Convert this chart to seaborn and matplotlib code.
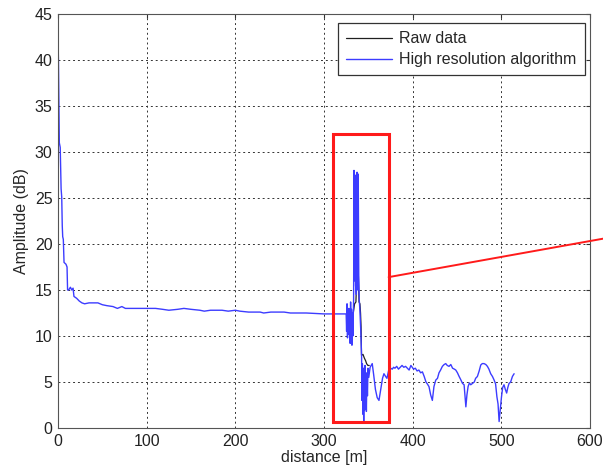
import matplotlib
matplotlib.use("Agg")
import matplotlib.pyplot as plt
import matplotlib.patches as mpatches
import seaborn as sns
import pandas as pd

# High resolution algorithm output (distance in m, amplitude in dB)
hr_dist = [0, 0.5, 1, 1.5, 2.5, 3.5, 4.2, 4.8, 5.3, 6, 6.8, 9, 10.2, 10.8, 12, 14, 15.5, 17,
           18, 21, 24, 27, 30, 35, 45, 50, 55, 62, 67, 72, 76, 90, 110, 118, 125, 135, 142,
           150, 160, 165, 172, 185, 192, 200, 205, 215, 228, 232, 240, 255, 262, 280, 300,
           312, 322, 325,
           325.5, 326, 326.5, 327, 327.5, 328, 328.5, 329, 329.5, 330, 330.5, 331, 331.5,
           332, 332.5, 333, 333.4, 333.8, 334.4, 335, 335.6, 336.5, 337.3, 338, 338.6,
           339.2, 339.7, 340.5, 341.5, 342.4,
           342.8, 343.3, 343.8, 344.3, 344.8, 345.3, 345.8, 346.3, 346.8, 347.3, 347.8,
           348.4, 349, 349.6, 350.5, 352, 354.4, 356, 358, 360, 362, 364, 366, 367.6,
           369.5, 371, 373, 375, 377, 378.5, 380, 382, 384, 386, 388, 390, 392, 394, 396,
           398, 399.5, 401, 403, 405, 407, 409, 411, 413, 415, 416.5, 418.4, 420.3, 422.2,
           424, 426, 428, 429.7, 431.5, 433.5, 435.5, 437.3, 439, 441, 443, 445, 447,
           448.6, 450.5, 452.4, 454, 456.2, 458, 460, 461.2, 462.5, 464, 465.5, 467.5,
           469.5, 471, 473, 475, 476.8, 478.5, 480.5, 482.5, 484.3, 486, 488, 490, 491.9,
           493.5, 495, 496.3, 497.5, 498.8, 500.2, 501.5, 503, 504.5, 506, 507.3, 508.7,
           510.5, 512.5, 514.4]
hr_amp = [42.2, 40.0, 36.0, 31.0, 30.5, 26.0, 25.1, 22.0, 20.8, 20.5, 18.0, 17.8, 17.5, 15.0,
          15.0, 15.3, 15.0, 15.2, 14.3, 14.1, 13.8, 13.6, 13.5, 13.6, 13.6, 13.4, 13.3, 13.2,
          13.0, 13.2, 13.0, 13.0, 13.0, 12.9, 12.8, 12.9, 13.0, 12.9, 12.8, 12.7, 12.8, 12.8,
          12.7, 12.8, 12.7, 12.6, 12.6, 12.5, 12.6, 12.6, 12.5, 12.5, 12.4, 12.4, 12.4, 12.4,
          10.5, 13.5, 9.8, 12.8, 10.2, 13.0, 10.5, 12.5, 9.2, 13.7, 9.5, 12.9, 9.0,
          12.5, 10.0, 12.5, 14.0, 28.0, 16.0, 27.5, 15.5, 14.5, 27.8, 15.0, 27.6,
          16.5, 14.0, 12.8, 10.5, 7.8,
          3.0, 7.0, 1.5, 6.5, 0.5, 5.8, 2.0, 6.8, 2.5, 5.5, 1.8,
          6.0, 3.5, 6.5, 5.5, 6.6, 7.0, 5.8, 4.2, 3.3, 3.0, 4.2, 5.4, 5.9,
          5.6, 5.4, 6.3, 6.5, 6.4, 6.6, 6.5, 6.7, 6.4, 6.6, 6.8, 6.6, 6.7, 6.5, 6.3,
          6.8, 6.6, 6.4, 6.5, 6.2, 6.3, 6.0, 6.1, 5.6, 5.0, 4.8, 4.5, 3.6, 3.0,
          4.5, 5.2, 5.4, 6.0, 6.3, 6.7, 6.9, 7.0, 6.8, 6.7, 6.9, 6.5, 6.4,
          6.3, 6.0, 5.6, 5.3, 4.85, 4.7, 2.3, 3.6, 4.5, 4.9, 4.7, 4.85,
          5.0, 5.4, 5.6, 6.2, 6.85, 7.0, 7.0, 6.9, 6.7, 6.4, 5.9, 5.6, 5.2,
          4.8, 3.4, 2.6, 0.7, 2.0, 3.4, 4.4, 4.7, 4.2, 3.8, 4.4, 4.85,
          5.0, 5.6, 5.9]

# Raw measurement where it departs from the processed curve
raw_dist = [333.0, 334.5, 336.0, 337.0, 338.0, 338.8, 339.5, 340.5, 341.2, 341.8, 342.3,
            344.0, 345.5, 347.0, 348.0, 349.5, 351.0]
raw_amp = [12.5, 13.5, 13.7, 16.8, 15.5, 16.5, 13.7, 13.5, 12.5, 11.0, 7.9,
           8.0, 7.6, 7.3, 7.0, 6.8, 6.8]

x_ticks = [0, 100, 200, 300, 400, 500, 600]
y_ticks = [0, 5, 10, 15, 20, 25, 30, 35, 40, 45]

# Zoom window marking the target echo and the pointer leaving the axes
zoom_x = (310.7, 372.9)
zoom_y = (0.65, 32.0)
pointer_x = [372.9, 616.0]
pointer_y = [16.4, 20.6]

sns.set_style("white")
plt.rcParams["font.family"] = ["Liberation Sans", "DejaVu Sans"]
plt.rcParams["font.size"] = 11.5

hr = pd.DataFrame({"distance": hr_dist, "amp": hr_amp})
raw = pd.DataFrame({"distance": raw_dist, "amp": raw_amp})

fig = plt.figure(figsize=(6.03, 4.76), dpi=100)
ax = fig.add_axes([58 / 603, 1 - 428 / 476, (590 - 58) / 603, (428 - 14) / 476])

sns.lineplot(data=raw, x="distance", y="amp", ax=ax, color="#202020", lw=0.9,
             sort=False, estimator=None, label="Raw data")
sns.lineplot(data=hr, x="distance", y="amp", ax=ax, color="#3c3cff", lw=1.0,
             sort=False, estimator=None, label="High resolution algorithm")

ax.set_xlim(0, 600)
ax.set_ylim(0, 45)
ax.set_xticks(x_ticks)
ax.set_yticks(y_ticks)
ax.set_xlabel("distance [m]", fontsize=11.5, labelpad=1)
ax.set_ylabel("Amplitude (dB)", fontsize=11.5, labelpad=4)
ax.grid(True, linestyle=(0, (2, 3)), color="#333333", linewidth=0.7)
ax.tick_params(direction="in", length=3, top=True, right=True, colors="#333333",
               labelcolor="#222222", labelsize=11.5, pad=4)
for s in ax.spines.values():
    s.set_color("#555555")
    s.set_linewidth(0.8)

leg = ax.legend(loc="upper right", bbox_to_anchor=(0.99, 0.978), fontsize=11.5,
                frameon=True, fancybox=False, handlelength=2.9, handletextpad=0.45,
                borderpad=0.5, labelspacing=0.4, borderaxespad=0.0)
leg.get_frame().set_edgecolor("#333333")
leg.get_frame().set_linewidth(0.9)
leg.get_frame().set_alpha(1)

ax.add_patch(mpatches.Rectangle((zoom_x[0], zoom_y[0]), zoom_x[1] - zoom_x[0],
                                zoom_y[1] - zoom_y[0], fill=False, edgecolor="#ff1a1a",
                                linewidth=2.2, zorder=5))
ax.plot(pointer_x, pointer_y, color="#ff1a1a", lw=1.4, clip_on=False, zorder=5)

fig.savefig("out.png", dpi=100)
